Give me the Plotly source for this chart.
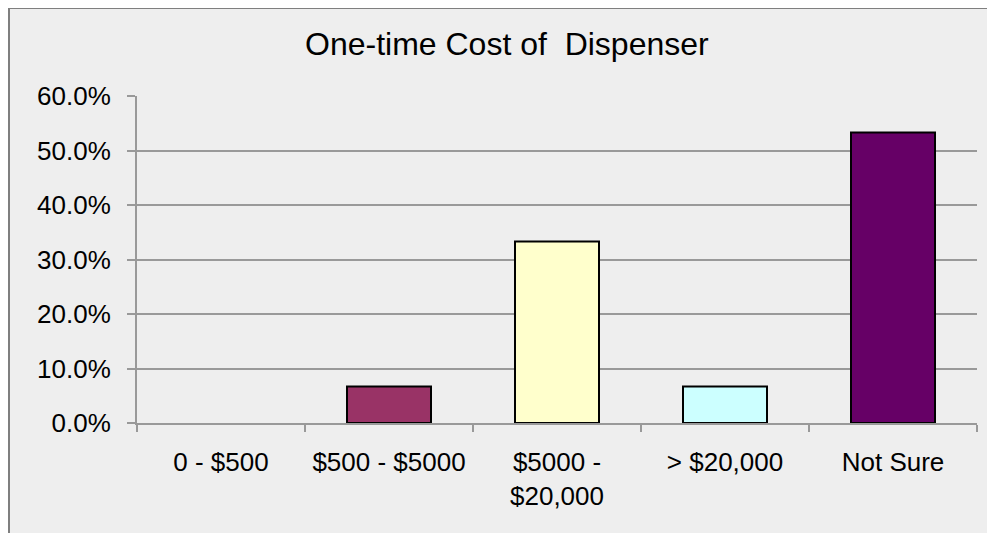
import plotly.graph_objects as go

# ========================== DATA ========================== #

categories = ['0 - $500', '$500 - $5000', '$5000 -<br>$20,000', '> $20,000', 'Not Sure']
shares = [0.0, 0.067, 0.333, 0.067, 0.533]
bar_colors = ['#993366', '#993366', '#FFFFCC', '#CCFFFF', '#660066']
title_text = 'One-time Cost of \u00a0Dispenser'

# ========================== FIGURE ========================== #

FONT = 'Liberation Sans, Arial, sans-serif'
GRID = '#999999'

# the page body has an 8px margin, so the figure is a bit smaller than the window
W, H = 987, 525
margin = dict(l=129, r=18, t=88, b=110, pad=0)
plot_w = W - margin['l'] - margin['r']
plot_h = H - margin['t'] - margin['b']


def px_to_paper_x(px):
    return (px - margin['l']) / plot_w


def px_to_paper_y(py):
    return (H - margin['b'] - py) / plot_h


fig = go.Figure()

fig.add_trace(go.Bar(
    x=categories,
    y=shares,
    width=0.5,
    marker=dict(
        color=bar_colors,
        line=dict(color='black', width=[0 if v == 0 else 2 for v in shares]),
    ),
    hovertemplate='%{x}: %{y:.1%}<extra></extra>',
))

# grey chart-area box with border (cropped on right/bottom in the reference)
fig.add_shape(
    type='rect', xref='paper', yref='paper', layer='below',
    x0=px_to_paper_x(1), x1=px_to_paper_x(W + 20),
    y0=px_to_paper_y(H + 20), y1=px_to_paper_y(0),
    fillcolor='#EEEEEE', line=dict(color='#7F7F7F', width=2),
)

fig.add_annotation(
    text=title_text, xref='paper', yref='paper',
    x=px_to_paper_x(499), y=px_to_paper_y(36),
    xanchor='center', yanchor='middle', showarrow=False,
    font=dict(family=FONT, size=32, color='black'),
)

fig.update_xaxes(
    type='category',
    showline=True, linecolor=GRID, linewidth=2,
    ticks='outside', tickson='boundaries', ticklen=7, tickcolor=GRID, tickwidth=2,
    showgrid=False,
    tickfont=dict(family=FONT, size=26, color='black'),
    ticklabelstandoff=15,
)
fig.update_yaxes(
    range=[0, 0.6], dtick=0.1, tickformat='.1%',
    showline=True, linecolor=GRID, linewidth=2,
    ticks='outside', ticklen=8, tickcolor=GRID, tickwidth=2,
    showgrid=True, gridcolor=GRID, gridwidth=2,
    zeroline=False,
    tickfont=dict(family=FONT, size=26, color='black'),
    ticklabelstandoff=11,
)

fig.update_layout(
    width=W, height=H,
    margin=margin,
    paper_bgcolor='white',
    plot_bgcolor='rgba(0,0,0,0)',
    showlegend=False,
    bargap=0.5,
    font=dict(family=FONT, color='black'),
)

fig.write_html('out.html')
